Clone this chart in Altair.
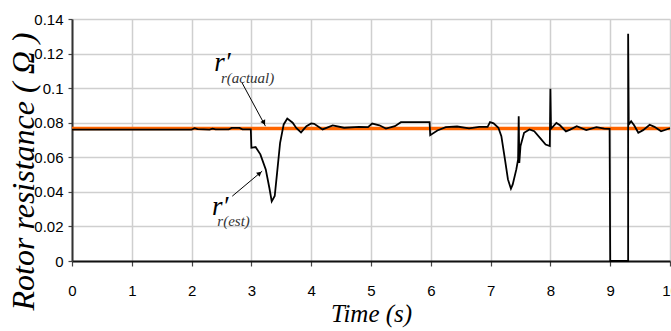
import altair as alt
import pandas as pd

# ---- data ----
est_t = [0.0, 2.0, 2.05, 2.1, 2.3, 2.35, 2.4, 2.62, 2.67, 2.8, 2.85, 2.99,
         3.0, 3.07, 3.15, 3.24, 3.3, 3.34, 3.39, 3.43, 3.48, 3.54, 3.6, 3.69,
         3.75, 3.83, 3.92, 4.0, 4.05, 4.19, 4.36, 4.55, 4.8, 4.95, 5.02, 5.14,
         5.25, 5.4, 5.5, 5.98, 5.99, 6.11, 6.25, 6.44, 6.64, 6.81, 6.95, 6.99,
         7.05, 7.13, 7.18, 7.24, 7.29, 7.34, 7.37, 7.43, 7.46, 7.47, 7.48, 7.5,
         7.56, 7.65, 7.73, 7.84, 7.92, 7.99, 8.0, 8.01, 8.1, 8.16, 8.26, 8.33,
         8.44, 8.6, 8.77, 8.9, 8.99, 9.0, 9.3, 9.3, 9.31, 9.35, 9.4, 9.47, 9.55,
         9.66, 9.74, 9.85, 10.0]
est_r = [0.0760, 0.0760, 0.0768, 0.0763, 0.0760, 0.0766, 0.0761, 0.0761, 0.0770,
         0.0770, 0.0762, 0.0762, 0.0655, 0.0659, 0.0617, 0.0530, 0.0424, 0.0345,
         0.0376, 0.0511, 0.0684, 0.0790, 0.0824, 0.0800, 0.0770, 0.0744, 0.0780,
         0.0796, 0.0794, 0.0761, 0.0784, 0.0771, 0.0776, 0.0774, 0.0795, 0.0785,
         0.0766, 0.0780, 0.0803, 0.0803, 0.0728, 0.0755, 0.0774, 0.0778, 0.0767,
         0.0776, 0.0776, 0.0803, 0.0796, 0.0771, 0.0722, 0.0588, 0.0472, 0.0418,
         0.0443, 0.0530, 0.0588, 0.0838, 0.0568, 0.0665, 0.0742, 0.0761, 0.0751,
         0.0707, 0.0674, 0.0665, 0.0997, 0.0765, 0.0799, 0.0785, 0.0750, 0.0760,
         0.0780, 0.0757, 0.0774, 0.0766, 0.0765, 0.0, 0.0, 0.1315, 0.0790, 0.0809,
         0.0785, 0.0742, 0.0757, 0.0788, 0.0776, 0.0750, 0.0768]

actual_t = [0.0, 10.0]
actual_r = [0.0767, 0.0767]

x_ticks = [0, 1, 2, 3, 4, 5, 6, 7, 8, 9, 10]
y_ticks = [0, 0.02, 0.04, 0.06, 0.08, 0.10, 0.12, 0.14]

# annotations (data units)
label_main = ["r′", "r′"]
label_main_t = [2.38, 2.34]
label_main_r = [0.1097, 0.0264]
label_sub = ["r(actual)", "r(est)"]
label_sub_t = [2.49, 2.43]
label_sub_r = [0.1027, 0.0205]

arrow_t = [2.845, 3.235, 2.68, 3.18]
arrow_r = [0.103, 0.078, 0.0375, 0.052]
arrow_id = ["a", "a", "b", "b"]
head_t = [3.203, 3.128]
head_r = [0.0804, 0.0505]
head_angle = [151, 50]

SERIF = "Times New Roman, Liberation Serif, Tinos, DejaVu Serif, serif"
SANS = "Arial Narrow, Liberation Sans Narrow, Arial, Liberation Sans, sans-serif"

# ---- tables ----
est = pd.DataFrame({"t": est_t, "r": est_r, "i": list(range(len(est_t)))})
act = pd.DataFrame({"t": actual_t, "r": actual_r})
main_lbl = pd.DataFrame({"t": label_main_t, "r": label_main_r, "txt": label_main})
sub_lbl = pd.DataFrame({"t": label_sub_t, "r": label_sub_r, "txt": label_sub})
arrows = pd.DataFrame({"t": arrow_t, "r": arrow_r, "id": arrow_id})
heads = pd.DataFrame({"t": head_t, "r": head_r, "ang": head_angle})

xs = alt.Scale(domain=[0, 10], nice=False, zero=False)
ys = alt.Scale(domain=[0, 0.14], nice=False)

x_axis = alt.Axis(values=x_ticks, format="d", title="Time (s)", grid=True,
                  labelFont=SANS, labelFontSize=15, labelOverlap=False, labelFlush=False,
                  labelColor="black", labelPadding=17,
                  tickSize=5, tickColor="#444", tickWidth=1.2,
                  domainColor="#111", domainWidth=2,
                  gridColor="#cfcfcf", gridWidth=1.5,
                  titleFont=SERIF, titleFontStyle="italic",
                  titleFontWeight="normal", titleFontSize=25,
                  titleColor="black", titlePadding=3)
y_axis = alt.Axis(values=y_ticks, format="~g", title="Rotor resistance ( Ω )",
                  grid=True, labelFont=SANS, labelFontSize=15,
                  labelOverlap=False, labelFlush=False,
                  labelColor="black", labelPadding=5,
                  tickSize=4, tickColor="#444", tickWidth=1.2,
                  domainColor="#333", domainWidth=2,
                  gridColor="#cfcfcf", gridWidth=1.5,
                  titleFont=SERIF, titleFontStyle="italic",
                  titleFontWeight="normal", titleFontSize=32,
                  titleColor="black", titleX=-39, titleY=152,
                  titleAlign="center", titleBaseline="alphabetic")

X = alt.X("t:Q", scale=xs, axis=x_axis)
Y = alt.Y("r:Q", scale=ys, axis=y_axis)

orange = alt.Chart(act).mark_line(color="#ff6600", strokeWidth=3.5).encode(x=X, y=Y)

black = alt.Chart(est).mark_line(color="black", strokeWidth=1.8).encode(
    x=X, y=Y, order="i:Q")

arrow_lines = alt.Chart(arrows).mark_line(color="black", strokeWidth=1).encode(
    x=X, y=Y, detail="id:N")

arrow_heads = alt.Chart(heads).mark_point(shape="triangle", filled=True,
                                          color="black", size=30, opacity=1).encode(
    x=X, y=Y, angle=alt.Angle("ang:Q", scale=None))

main_text = alt.Chart(main_lbl).mark_text(font=SERIF, fontStyle="italic",
                                          fontSize=27, align="left", baseline="alphabetic",
                                          color="black").encode(
    x=X, y=Y, text="txt:N")

sub_text = alt.Chart(sub_lbl).mark_text(font=SERIF, fontStyle="italic",
                                        fontSize=15, align="left", baseline="alphabetic",
                                        color="#333").encode(
    x=X, y=Y, text="txt:N")

chart = alt.layer(orange, black, arrow_lines, arrow_heads, main_text, sub_text).properties(
    width=598, height=242,
    autosize=alt.AutoSizeParams(type="none"),
    padding={"left": 72, "top": 19, "right": 1, "bottom": 70},
    background="white",
).configure_view(stroke=None)

chart.save("out.html", embed_options={"renderer": "svg", "actions": False})
